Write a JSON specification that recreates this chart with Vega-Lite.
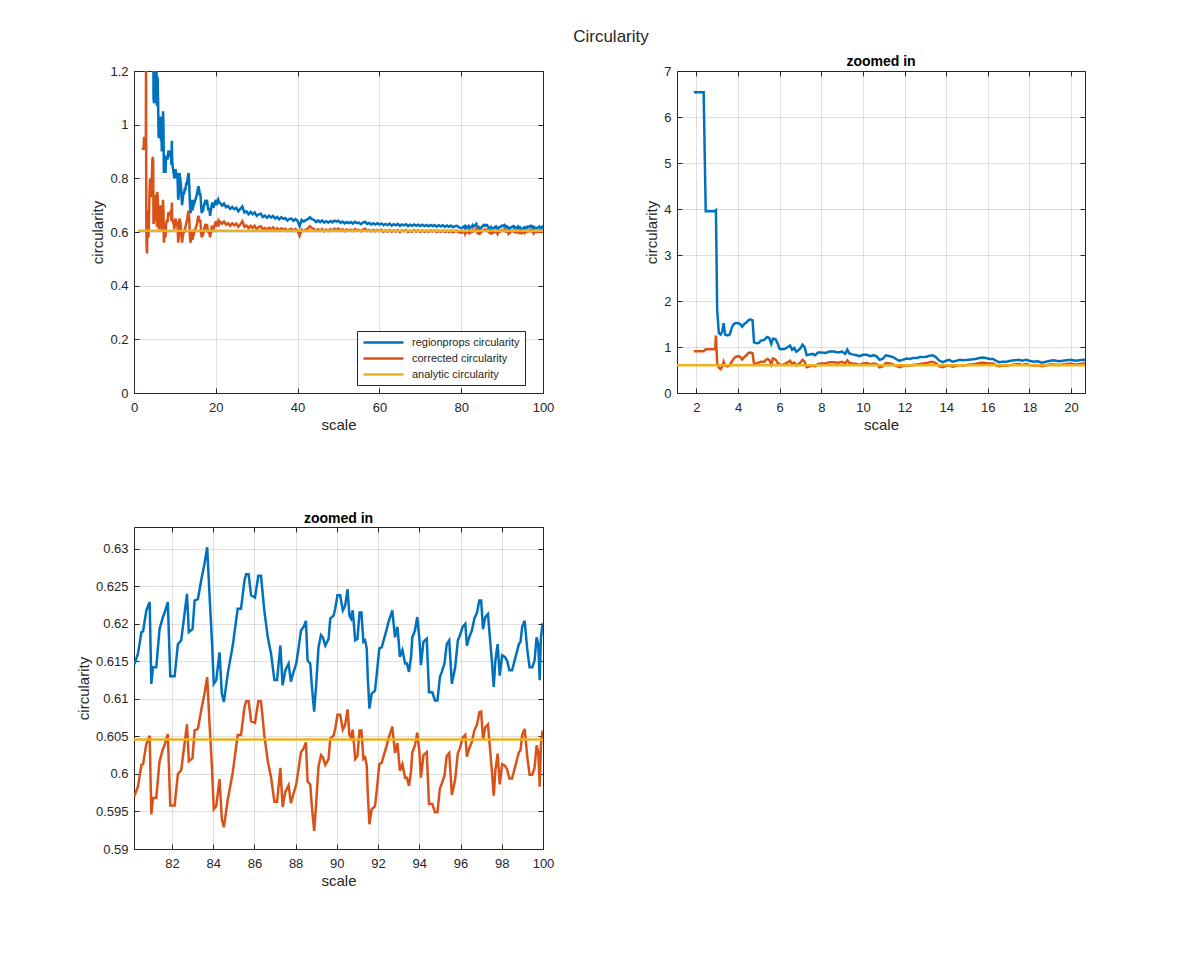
{
"$schema":"https://vega.github.io/schema/vega-lite/v6.json",
"autosize":{"type":"pad"},
"padding":{"left":76,"top":28,"right":5,"bottom":5},
"background":"white",
"title":{"text":"Circularity","fontSize":17,"fontWeight":"normal","color":"#262626","anchor":"middle","frame":"bounds","dx":30,"offset":9},
"datasets":{
"an":[{"x":1,"series":"y","value":0.6046},{"x":100,"series":"y","value":0.6046}],
"main":[
{"x":1.88,"b":6.54,"o":0.91},{"x":2.35,"b":6.54,"o":0.91},{"x":2.45,"b":3.95,"o":0.95},{"x":2.9,"b":3.95,"o":0.95},{"x":2.94,"b":3.97,"o":1.25},{"x":3.0,"b":1.8,"o":0.65},{"x":3.08,"b":1.3,"o":0.55},{"x":3.17,"b":1.27,"o":0.52},{"x":3.25,"b":1.35,"o":0.58},{"x":3.31,"b":1.52,"o":0.68},{"x":3.38,"b":1.27,"o":0.6},{"x":3.5,"b":1.25,"o":0.58},{"x":3.6,"b":1.27,"o":0.6},{"x":3.7,"b":1.42,"o":0.68},{"x":3.8,"b":1.5,"o":0.75},{"x":3.9,"b":1.52,"o":0.79},{"x":4.0,"b":1.52,"o":0.8},{"x":4.1,"b":1.5,"o":0.79},{"x":4.2,"b":1.44,"o":0.73},{"x":4.3,"b":1.5,"o":0.78},{"x":4.4,"b":1.53,"o":0.82},{"x":4.5,"b":1.58,"o":0.87},{"x":4.6,"b":1.6,"o":0.88},{"x":4.7,"b":1.58,"o":0.86},{"x":4.77,"b":1.1,"o":0.63},{"x":4.9,"b":1.08,"o":0.64},{"x":5.0,"b":1.09,"o":0.66},{"x":5.1,"b":1.14,"o":0.68},{"x":5.25,"b":1.15,"o":0.68},{"x":5.4,"b":1.22,"o":0.74},{"x":5.5,"b":1.2,"o":0.72},{"x":5.6,"b":1.07,"o":0.62},{"x":5.68,"b":1.18,"o":0.75},{"x":5.8,"b":1.17,"o":0.73},{"x":5.9,"b":1.08,"o":0.66},{"x":6.0,"b":0.96,"o":0.62},
{"x":6.1,"b":0.95,"o":0.61},{"x":6.25,"b":0.96,"o":0.63},{"x":6.4,"b":1.0,"o":0.67},{"x":6.5,"b":1.03,"o":0.7},{"x":6.6,"b":0.94,"o":0.63},{"x":6.7,"b":0.98,"o":0.66},{"x":6.8,"b":0.9,"o":0.6},{"x":6.9,"b":0.93,"o":0.63},{"x":7.0,"b":0.97,"o":0.66},{"x":7.1,"b":1.05,"o":0.72},{"x":7.2,"b":1.0,"o":0.68},{"x":7.3,"b":0.82,"o":0.56},{"x":7.45,"b":0.84,"o":0.58},{"x":7.6,"b":0.85,"o":0.6},{"x":7.7,"b":0.82,"o":0.58},{"x":7.85,"b":0.88,"o":0.63},{"x":8.0,"b":0.88,"o":0.64},{"x":8.2,"b":0.87,"o":0.64},{"x":8.4,"b":0.9,"o":0.67},{"x":8.6,"b":0.9,"o":0.67},{"x":8.8,"b":0.88,"o":0.66},{"x":9.0,"b":0.9,"o":0.68},{"x":9.15,"b":0.85,"o":0.64},{"x":9.25,"b":0.94,"o":0.71},{"x":9.35,"b":0.86,"o":0.65},{"x":9.5,"b":0.84,"o":0.64},{"x":9.7,"b":0.82,"o":0.63},{"x":9.85,"b":0.8,"o":0.61},{"x":10.0,"b":0.83,"o":0.64},{"x":10.2,"b":0.83,"o":0.65},{"x":10.35,"b":0.8,"o":0.62},{"x":10.5,"b":0.82,"o":0.64},{"x":10.65,"b":0.8,"o":0.63},{"x":10.8,"b":0.72,"o":0.56},{"x":10.95,"b":0.74,"o":0.58},{"x":11.1,"b":0.82,"o":0.65},{"x":11.3,"b":0.8,"o":0.64},{"x":11.45,"b":0.78,"o":0.62},{"x":11.6,"b":0.74,"o":0.59},{"x":11.75,"b":0.7,"o":0.56},{"x":11.9,"b":0.72,"o":0.58},{"x":12.1,"b":0.75,"o":0.6},{"x":12.25,"b":0.74,"o":0.6},{"x":12.4,"b":0.76,"o":0.61},{"x":12.6,"b":0.76,"o":0.62},{"x":12.75,"b":0.78,"o":0.63},{"x":12.9,"b":0.78,"o":0.64},{"x":13.05,"b":0.79,"o":0.65},{"x":13.2,"b":0.81,"o":0.67},{"x":13.35,"b":0.82,"o":0.68},{"x":13.5,"b":0.78,"o":0.65},{"x":13.68,"b":0.7,"o":0.58},{"x":13.84,"b":0.67,"o":0.56},{"x":14.0,"b":0.7,"o":0.59},{"x":14.15,"b":0.72,"o":0.6},{"x":14.3,"b":0.68,"o":0.57},{"x":14.5,"b":0.7,"o":0.59},{"x":14.65,"b":0.72,"o":0.61},{"x":14.8,"b":0.71,"o":0.6},{"x":15.0,"b":0.72,"o":0.61},{"x":15.2,"b":0.73,"o":0.62},{"x":15.4,"b":0.74,"o":0.63},{"x":15.6,"b":0.76,"o":0.65},{"x":15.75,"b":0.77,"o":0.66},{"x":15.9,"b":0.76,"o":0.65},{"x":16.1,"b":0.74,"o":0.64},{"x":16.25,"b":0.74,"o":0.64},{"x":16.4,"b":0.7,"o":0.6},{"x":16.55,"b":0.67,"o":0.58},{"x":16.7,"b":0.68,"o":0.59},{"x":16.9,"b":0.68,"o":0.59},{"x":17.1,"b":0.7,"o":0.61},{"x":17.3,"b":0.71,"o":0.62},{"x":17.5,"b":0.72,"o":0.63},{"x":17.65,"b":0.7,"o":0.61},{"x":17.85,"b":0.72,"o":0.63},{"x":18.0,"b":0.7,"o":0.61},{"x":18.2,"b":0.68,"o":0.6},{"x":18.4,"b":0.69,"o":0.6},{"x":18.6,"b":0.66,"o":0.58},{"x":18.8,"b":0.68,"o":0.6},{"x":19.0,"b":0.7,"o":0.62},{"x":19.15,"b":0.71,"o":0.62},{"x":19.4,"b":0.69,"o":0.61},{"x":19.6,"b":0.7,"o":0.62},{"x":19.8,"b":0.71,"o":0.63},{"x":20.0,"b":0.72,"o":0.64},{"x":20.2,"b":0.7,"o":0.62},{"x":20.4,"b":0.71,"o":0.63},{"x":20.6,"b":0.72,"o":0.64},{"x":20.8,"b":0.71,"o":0.63},
{"x":21.0,"b":0.709,"o":0.639},{"x":21.5,"b":0.699,"o":0.631},{"x":22.0,"b":0.706,"o":0.639},{"x":22.5,"b":0.692,"o":0.627},{"x":23.0,"b":0.697,"o":0.633},{"x":23.5,"b":0.686,"o":0.623},{"x":24.0,"b":0.693,"o":0.632},{"x":24.5,"b":0.685,"o":0.625},{"x":25.0,"b":0.69,"o":0.631},{"x":25.5,"b":0.677,"o":0.619},{"x":26.0,"b":0.686,"o":0.629},{"x":26.5,"b":0.695,"o":0.64},{"x":27.0,"b":0.673,"o":0.619},{"x":27.5,"b":0.677,"o":0.624},{"x":28.0,"b":0.666,"o":0.614},{"x":28.5,"b":0.675,"o":0.623},{"x":29.0,"b":0.666,"o":0.615},{"x":29.5,"b":0.673,"o":0.623},{"x":30.0,"b":0.66,"o":0.611},{"x":30.5,"b":0.666,"o":0.618},{"x":31.0,"b":0.668,"o":0.621},{"x":31.5,"b":0.656,"o":0.609},{"x":32.0,"b":0.661,"o":0.615},{"x":32.5,"b":0.653,"o":0.608},{"x":33.0,"b":0.661,"o":0.616},{"x":33.5,"b":0.654,"o":0.61},{"x":34.0,"b":0.66,"o":0.617},{"x":34.5,"b":0.65,"o":0.607},{"x":35.0,"b":0.656,"o":0.614},{"x":35.5,"b":0.647,"o":0.606},{"x":36.0,"b":0.655,"o":0.614},{"x":36.5,"b":0.649,"o":0.609},{"x":37.0,"b":0.652,"o":0.612},{"x":37.5,"b":0.643,"o":0.604},{"x":38.0,"b":0.649,"o":0.61},{"x":38.5,"b":0.65,"o":0.612},{"x":39.0,"b":0.642,"o":0.604},{"x":39.5,"b":0.648,"o":0.611},{"x":40.0,"b":0.641,"o":0.604},{"x":40.5,"b":0.622,"o":0.586},{"x":41.0,"b":0.645,"o":0.609},{"x":41.5,"b":0.639,"o":0.604},{"x":42.0,"b":0.644,"o":0.609},{"x":42.5,"b":0.648,"o":0.613},{"x":43.0,"b":0.655,"o":0.621},{"x":43.5,"b":0.648,"o":0.614},{"x":44.0,"b":0.645,"o":0.612},{"x":44.5,"b":0.637,"o":0.604},{"x":45.0,"b":0.643,"o":0.61},{"x":45.5,"b":0.637,"o":0.605},{"x":46.0,"b":0.643,"o":0.611},{"x":46.5,"b":0.635,"o":0.603},{"x":47.0,"b":0.64,"o":0.609},{"x":47.5,"b":0.635,"o":0.604},{"x":48.0,"b":0.641,"o":0.61},{"x":48.5,"b":0.636,"o":0.606},{"x":49.0,"b":0.642,"o":0.612},{"x":49.5,"b":0.639,"o":0.609},{"x":50.0,"b":0.642,"o":0.613},{"x":50.5,"b":0.634,"o":0.605},{"x":51.0,"b":0.639,"o":0.61},{"x":51.5,"b":0.632,"o":0.603},{"x":52.0,"b":0.637,"o":0.609},{"x":52.5,"b":0.633,"o":0.605},{"x":53.0,"b":0.637,"o":0.609},{"x":53.5,"b":0.631,"o":0.604},{"x":54.0,"b":0.638,"o":0.611},{"x":54.5,"b":0.633,"o":0.606},{"x":55.0,"b":0.635,"o":0.608},{"x":55.5,"b":0.629,"o":0.603},{"x":56.0,"b":0.635,"o":0.609},{"x":56.5,"b":0.638,"o":0.612},{"x":57.0,"b":0.63,"o":0.604},{"x":57.5,"b":0.634,"o":0.608},{"x":58.0,"b":0.628,"o":0.603},{"x":58.5,"b":0.633,"o":0.608},{"x":59.0,"b":0.628,"o":0.603},{"x":59.5,"b":0.633,"o":0.608},{"x":60.0,"b":0.628,"o":0.6035},{"x":60.5,"b":0.632,"o":0.608},{"x":61.0,"b":0.625,"o":0.601},{"x":61.5,"b":0.63,"o":0.606},{"x":62.0,"b":0.626,"o":0.602},{"x":62.5,"b":0.631,"o":0.6075},{"x":63.0,"b":0.624,"o":0.601},{"x":63.5,"b":0.629,"o":0.606},{"x":64.0,"b":0.625,"o":0.602},{"x":64.5,"b":0.63,"o":0.607},{"x":65.0,"b":0.623,"o":0.6},{"x":65.5,"b":0.628,"o":0.606},{"x":66.0,"b":0.625,"o":0.603},{"x":66.5,"b":0.629,"o":0.607},{"x":67.0,"b":0.622,"o":0.6},{"x":67.5,"b":0.627,"o":0.605},{"x":68.0,"b":0.623,"o":0.601},{"x":68.5,"b":0.628,"o":0.607},{"x":69.0,"b":0.623,"o":0.602},{"x":69.5,"b":0.627,"o":0.606},{"x":70.0,"b":0.622,"o":0.601},{"x":70.5,"b":0.627,"o":0.606},{"x":71.0,"b":0.622,"o":0.601},{"x":71.5,"b":0.626,"o":0.605},{"x":72.0,"b":0.621,"o":0.601},{"x":72.5,"b":0.626,"o":0.606},{"x":73.0,"b":0.622,"o":0.602},{"x":73.5,"b":0.626,"o":0.606},{"x":74.0,"b":0.62,"o":0.6},{"x":74.5,"b":0.625,"o":0.605},{"x":75.0,"b":0.621,"o":0.601},{"x":75.5,"b":0.625,"o":0.6055},{"x":76.0,"b":0.619,"o":0.6},{"x":76.5,"b":0.624,"o":0.605},{"x":77.0,"b":0.619,"o":0.6},{"x":77.5,"b":0.624,"o":0.605},{"x":78.0,"b":0.618,"o":0.599},{"x":78.5,"b":0.622,"o":0.603},{"x":79.0,"b":0.623,"o":0.604},{"x":79.5,"b":0.617,"o":0.5985},{"x":80.0,"b":0.6145,"o":0.597},
{"x":80.19,"b":0.6147,"o":0.5971},{"x":80.35,"b":0.616,"o":0.5983},{"x":80.52,"b":0.6189,"o":0.6012},{"x":80.6,"b":0.619,"o":0.6013},{"x":80.76,"b":0.6218,"o":0.604},{"x":80.92,"b":0.6229,"o":0.6051},{"x":81.0,"b":0.612,"o":0.5946},{"x":81.08,"b":0.6142,"o":0.5968},{"x":81.24,"b":0.6142,"o":0.5968},{"x":81.4,"b":0.6193,"o":0.6017},{"x":81.56,"b":0.6209,"o":0.6033},{"x":81.65,"b":0.6215,"o":0.6039},{"x":81.8,"b":0.6229,"o":0.6053},{"x":81.92,"b":0.613,"o":0.5958},{"x":82.13,"b":0.613,"o":0.5958},{"x":82.29,"b":0.6173,"o":0.6},{"x":82.45,"b":0.6178,"o":0.6005},{"x":82.61,"b":0.6213,"o":0.604},{"x":82.73,"b":0.624,"o":0.6066},{"x":82.82,"b":0.6189,"o":0.6017},{"x":83.0,"b":0.6193,"o":0.6021},{"x":83.1,"b":0.6231,"o":0.6058},{"x":83.26,"b":0.6233,"o":0.606},{"x":83.42,"b":0.6258,"o":0.6085},{"x":83.58,"b":0.628,"o":0.6107},{"x":83.71,"b":0.6302,"o":0.6129},{"x":83.82,"b":0.624,"o":0.6069},{"x":83.94,"b":0.6178,"o":0.6009},{"x":84.03,"b":0.612,"o":0.5953},{"x":84.15,"b":0.6125,"o":0.5957},{"x":84.31,"b":0.6162,"o":0.5993},{"x":84.42,"b":0.6107,"o":0.594},{"x":84.52,"b":0.6096,"o":0.5929},{"x":84.71,"b":0.6134,"o":0.5966},{"x":84.95,"b":0.6171,"o":0.6002},{"x":85.19,"b":0.622,"o":0.6052},{"x":85.35,"b":0.622,"o":0.6052},{"x":85.52,"b":0.6258,"o":0.6089},{"x":85.6,"b":0.6266,"o":0.6097},{"x":85.72,"b":0.6266,"o":0.6097},{"x":85.84,"b":0.6238,"o":0.607},{"x":86.03,"b":0.6235,"o":0.6068},{"x":86.19,"b":0.6264,"o":0.6097},{"x":86.32,"b":0.6264,"o":0.6097},{"x":86.48,"b":0.6218,"o":0.6052},{"x":86.65,"b":0.6182,"o":0.6017},{"x":86.81,"b":0.616,"o":0.5995},{"x":86.97,"b":0.6125,"o":0.5963},{"x":87.1,"b":0.6125,"o":0.5963},{"x":87.26,"b":0.6171,"o":0.6008},{"x":87.37,"b":0.6118,"o":0.5956},{"x":87.5,"b":0.6138,"o":0.5976},{"x":87.66,"b":0.6147,"o":0.5985},{"x":87.77,"b":0.6123,"o":0.5961},{"x":87.9,"b":0.6136,"o":0.5974},{"x":88.03,"b":0.6147,"o":0.5986},{"x":88.15,"b":0.6169,"o":0.6008},{"x":88.26,"b":0.6191,"o":0.6029},{"x":88.39,"b":0.6196,"o":0.6034},{"x":88.5,"b":0.6204,"o":0.6042},{"x":88.58,"b":0.6151,"o":0.599},{"x":88.71,"b":0.6147,"o":0.5986},{"x":88.79,"b":0.6116,"o":0.5956},{"x":88.9,"b":0.6083,"o":0.5924},{"x":89.0,"b":0.612,"o":0.5962},{"x":89.11,"b":0.6169,"o":0.601},{"x":89.23,"b":0.6185,"o":0.6025},{"x":89.32,"b":0.6182,"o":0.6022},{"x":89.44,"b":0.6171,"o":0.6012},{"x":89.6,"b":0.618,"o":0.602},{"x":89.68,"b":0.6207,"o":0.6047},{"x":89.84,"b":0.6211,"o":0.6051},{"x":89.92,"b":0.622,"o":0.606},{"x":90.03,"b":0.6238,"o":0.6079},{"x":90.16,"b":0.6238,"o":0.6079},{"x":90.29,"b":0.6218,"o":0.6059},{"x":90.4,"b":0.6224,"o":0.6065},{"x":90.52,"b":0.6246,"o":0.6086},{"x":90.61,"b":0.6211,"o":0.6052},{"x":90.69,"b":0.6207,"o":0.6048},{"x":90.77,"b":0.6218,"o":0.6059},{"x":90.89,"b":0.6178,"o":0.602},{"x":91.0,"b":0.618,"o":0.6024},{"x":91.1,"b":0.6215,"o":0.6058},{"x":91.19,"b":0.6215,"o":0.6058},{"x":91.29,"b":0.6176,"o":0.602},{"x":91.37,"b":0.6178,"o":0.6022},{"x":91.45,"b":0.6167,"o":0.6011},{"x":91.5,"b":0.6129,"o":0.5974},{"x":91.58,"b":0.6087,"o":0.5933},{"x":91.69,"b":0.6107,"o":0.5953},{"x":91.85,"b":0.6111,"o":0.5957},{"x":91.94,"b":0.6134,"o":0.5979},{"x":92.06,"b":0.6167,"o":0.6013},{"x":92.18,"b":0.6169,"o":0.6015},{"x":92.29,"b":0.618,"o":0.6026},{"x":92.42,"b":0.6193,"o":0.6038},{"x":92.5,"b":0.6202,"o":0.6047},{"x":92.61,"b":0.6211,"o":0.6056},{"x":92.69,"b":0.6218,"o":0.6063},{"x":92.82,"b":0.6182,"o":0.6028},{"x":92.94,"b":0.6196,"o":0.6041},{"x":93.06,"b":0.6156,"o":0.6004},{"x":93.18,"b":0.6165,"o":0.6013},{"x":93.31,"b":0.6147,"o":0.5995},{"x":93.4,"b":0.6147,"o":0.5995},{"x":93.5,"b":0.6136,"o":0.5984},{"x":93.6,"b":0.6156,"o":0.6004},{"x":93.66,"b":0.6182,"o":0.6029},{"x":93.79,"b":0.6191,"o":0.6038},{"x":93.9,"b":0.6209,"o":0.6055},{"x":94.0,"b":0.6182,"o":0.6031},{"x":94.08,"b":0.6145,"o":0.5995},{"x":94.2,"b":0.6176,"o":0.6025},{"x":94.36,"b":0.618,"o":0.6029},{"x":94.47,"b":0.6109,"o":0.596},{"x":94.63,"b":0.6109,"o":0.596},{"x":94.76,"b":0.6098,"o":0.5949},{"x":94.88,"b":0.6098,"o":0.5949},{"x":95.0,"b":0.6129,"o":0.5981},{"x":95.09,"b":0.6136,"o":0.5987},{"x":95.22,"b":0.6147,"o":0.5998},{"x":95.33,"b":0.6173,"o":0.6024},{"x":95.45,"b":0.6178,"o":0.6028},{"x":95.58,"b":0.612,"o":0.5972},{"x":95.74,"b":0.6142,"o":0.5993},{"x":95.87,"b":0.6178,"o":0.6028},{"x":95.98,"b":0.6185,"o":0.6035},{"x":96.1,"b":0.6196,"o":0.6048},{"x":96.23,"b":0.62,"o":0.6052},{"x":96.31,"b":0.6171,"o":0.6023},{"x":96.42,"b":0.6182,"o":0.6034},{"x":96.55,"b":0.6191,"o":0.6043},{"x":96.67,"b":0.6207,"o":0.6058},{"x":96.8,"b":0.6215,"o":0.6066},{"x":96.91,"b":0.6231,"o":0.6082},{"x":97.0,"b":0.6231,"o":0.6083},{"x":97.09,"b":0.6193,"o":0.6046},{"x":97.2,"b":0.6209,"o":0.6062},{"x":97.33,"b":0.6213,"o":0.6066},{"x":97.45,"b":0.6173,"o":0.6027},{"x":97.53,"b":0.6147,"o":0.6001},{"x":97.61,"b":0.6116,"o":0.5971},{"x":97.69,"b":0.6151,"o":0.6005},{"x":97.8,"b":0.6173,"o":0.6027},{"x":97.9,"b":0.6131,"o":0.5986},{"x":98.02,"b":0.6158,"o":0.6013},{"x":98.15,"b":0.6156,"o":0.6011},{"x":98.26,"b":0.6151,"o":0.6006},{"x":98.37,"b":0.6138,"o":0.5994},{"x":98.5,"b":0.6138,"o":0.5994},{"x":98.67,"b":0.6156,"o":0.6012},{"x":98.83,"b":0.6173,"o":0.6029},{"x":98.91,"b":0.6176,"o":0.6032},{"x":98.99,"b":0.6196,"o":0.6052},{"x":99.11,"b":0.6204,"o":0.606},{"x":99.24,"b":0.6165,"o":0.6022},{"x":99.35,"b":0.6142,"o":0.5999},{"x":99.48,"b":0.6142,"o":0.5999},{"x":99.59,"b":0.6151,"o":0.6008},{"x":99.69,"b":0.6182,"o":0.6038},{"x":99.77,"b":0.6173,"o":0.603},{"x":99.84,"b":0.6125,"o":0.5983},{"x":99.9,"b":0.6182,"o":0.6039},{"x":99.97,"b":0.6198,"o":0.6055},{"x":100.0,"b":0.6197,"o":0.6054}
]},
"concat":[
{"width":409,"height":322,
"layer":[
{"data":{"name":"main"},"transform":[{"fold":["b","o"],"as":["series","value"]}],
"mark":{"type":"line","strokeWidth":2.5,"clip":true},
"encoding":{
"x":{"field":"x","type":"quantitative","scale":{"domain":[0,100],"nice":false,"zero":false},"axis":{"values":[0,20,40,60,80,100],"title":"scale","labelExpr":"'' + datum.value"}},
"y":{"field":"value","type":"quantitative","scale":{"domain":[0,1.2],"nice":false,"zero":false},"axis":{"values":[0,0.2,0.4,0.6,0.8,1,1.2],"title":"circularity","labelExpr":"'' + datum.value"}},
"color":{"field":"series","type":"nominal","scale":{"domain":["b","o","y"],"range":["#0072BD","#D95319","#EDB120"]},
"legend":{"orient":"none","legendX":223,"legendY":260,"title":null,"symbolType":"M-4,0H4","symbolSize":100,"symbolStrokeWidth":2.5,"symbolOffset":15,"labelOffset":22,"labelFontSize":11,"labelColor":"#262626","fillColor":"white","strokeColor":"#262626","padding":5,"rowPadding":4,
"labelExpr":"datum.label == 'b' ? 'regionprops circularity' : datum.label == 'o' ? 'corrected circularity' : 'analytic circularity'"}}}},
{"data":{"name":"an"},
"mark":{"type":"line","strokeWidth":2.5,"clip":true},
"encoding":{
"x":{"field":"x","type":"quantitative","scale":{"domain":[0,100],"nice":false,"zero":false},"axis":{"orient":"top","values":[0,20,40,60,80,100],"labels":false,"labelPadding":0,"title":null,"grid":false}},
"y":{"field":"value","type":"quantitative","scale":{"domain":[0,1.2],"nice":false,"zero":false},"axis":{"orient":"right","values":[0,0.2,0.4,0.6,0.8,1,1.2],"labels":false,"labelPadding":0,"title":null,"grid":false}},
"color":{"field":"series","type":"nominal","scale":{"domain":["b","o","y"],"range":["#0072BD","#D95319","#EDB120"]}}}}
],
"resolve":{"axis":{"x":"independent","y":"independent"}}},
{"width":408,"height":322,"title":{"text":"zoomed in","offset":-4},
"layer":[
{"data":{"name":"main"},"transform":[{"fold":["b","o"],"as":["series","value"]}],
"mark":{"type":"line","strokeWidth":2.5,"clip":true},
"encoding":{
"x":{"field":"x","type":"quantitative","scale":{"domain":[1.07,20.67],"nice":false,"zero":false},"axis":{"values":[2,4,6,8,10,12,14,16,18,20],"title":"scale","labelExpr":"'' + datum.value"}},
"y":{"field":"value","type":"quantitative","scale":{"domain":[0,7],"nice":false,"zero":false},"axis":{"values":[0,1,2,3,4,5,6,7],"title":"circularity","labelExpr":"'' + datum.value"}},
"color":{"field":"series","type":"nominal","scale":{"domain":["b","o","y"],"range":["#0072BD","#D95319","#EDB120"]},"legend":null}}},
{"data":{"name":"an"},
"mark":{"type":"line","strokeWidth":2.5,"clip":true},
"encoding":{
"x":{"field":"x","type":"quantitative","scale":{"domain":[1.07,20.67],"nice":false,"zero":false},"axis":{"orient":"top","values":[2,4,6,8,10,12,14,16,18,20],"labels":false,"labelPadding":0,"title":null,"grid":false}},
"y":{"field":"value","type":"quantitative","scale":{"domain":[0,7],"nice":false,"zero":false},"axis":{"orient":"right","values":[0,1,2,3,4,5,6,7],"labels":false,"labelPadding":0,"title":null,"grid":false}},
"color":{"field":"series","type":"nominal","scale":{"domain":["b","o","y"],"range":["#0072BD","#D95319","#EDB120"]},"legend":null}}}
],
"resolve":{"axis":{"x":"independent","y":"independent"}}},
{"width":409,"height":322,"title":{"text":"zoomed in","offset":1},
"layer":[
{"data":{"name":"main"},"transform":[{"fold":["b","o"],"as":["series","value"]}],
"mark":{"type":"line","strokeWidth":2.5,"clip":true},
"encoding":{
"x":{"field":"x","type":"quantitative","scale":{"domain":[80.16,100],"nice":false,"zero":false},"axis":{"values":[82,84,86,88,90,92,94,96,98,100],"title":"scale","labelExpr":"'' + datum.value"}},
"y":{"field":"value","type":"quantitative","scale":{"domain":[0.59,0.6329],"nice":false,"zero":false},"axis":{"values":[0.59,0.595,0.6,0.605,0.61,0.615,0.62,0.625,0.63],"title":"circularity","labelExpr":"'' + datum.value"}},
"color":{"field":"series","type":"nominal","scale":{"domain":["b","o","y"],"range":["#0072BD","#D95319","#EDB120"]},"legend":null}}},
{"data":{"name":"an"},
"mark":{"type":"line","strokeWidth":2.5,"clip":true},
"encoding":{
"x":{"field":"x","type":"quantitative","scale":{"domain":[80.16,100],"nice":false,"zero":false},"axis":{"orient":"top","values":[82,84,86,88,90,92,94,96,98,100],"labels":false,"labelPadding":0,"title":null,"grid":false}},
"y":{"field":"value","type":"quantitative","scale":{"domain":[0.59,0.6329],"nice":false,"zero":false},"axis":{"orient":"right","values":[0.59,0.595,0.6,0.605,0.61,0.615,0.62,0.625,0.63],"labels":false,"labelPadding":0,"title":null,"grid":false}},
"color":{"field":"series","type":"nominal","scale":{"domain":["b","o","y"],"range":["#0072BD","#D95319","#EDB120"]},"legend":null}}}
],
"resolve":{"axis":{"x":"independent","y":"independent"}}}
],
"columns":2,
"spacing":{"row":134,"column":134},"bounds":"flush",
"resolve":{"scale":{"color":"independent"},"legend":{"color":"independent"}},
"config":{
"font":"Liberation Sans",
"view":{"stroke":null},
"axis":{"labelFontSize":13,"labelColor":"#262626","labelFont":"Liberation Sans","titleFont":"Liberation Sans","titleFontSize":15,"titleFontWeight":"normal","titleColor":"#262626","domainColor":"#262626","domainWidth":1,"tickColor":"#262626","tickSize":-5,"gridColor":"#262626","gridOpacity":0.15,"labelPadding":13,"titlePadding":3,"labelFlush":false,"labelOverlap":false},
"axisY":{"labelPadding":11,"titlePadding":4},
"title":{"fontSize":14,"fontWeight":"bold","color":"#000000","font":"Liberation Sans"},
"legend":{"labelFont":"Liberation Sans"}
}
}
